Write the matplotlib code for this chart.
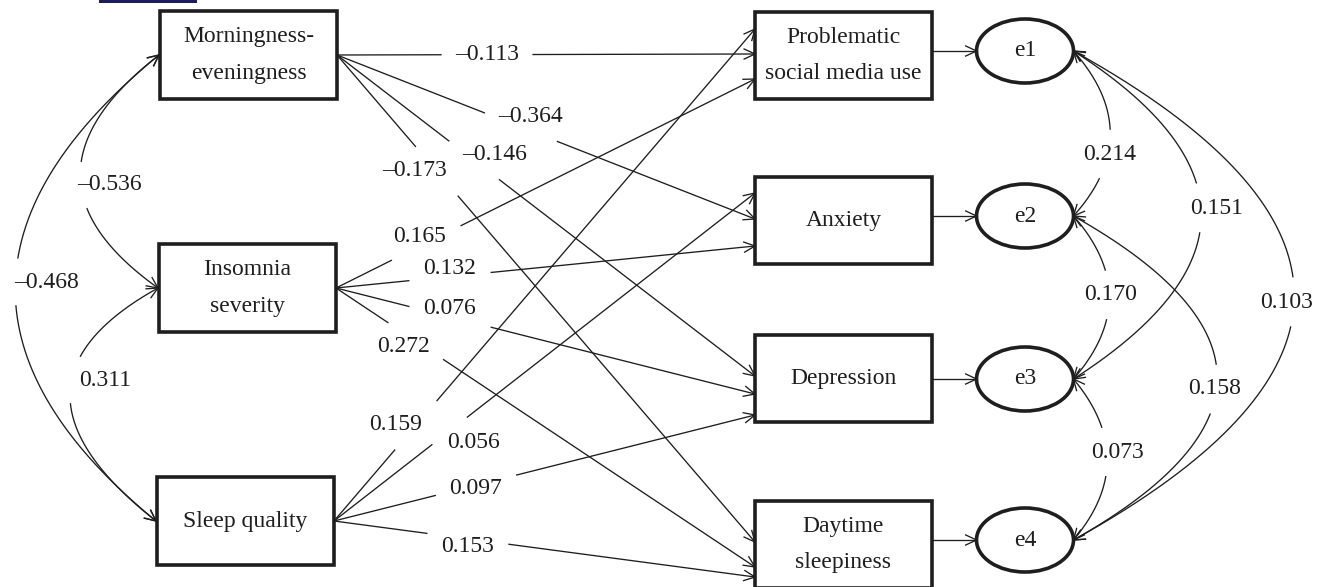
import numpy as np
import matplotlib
matplotlib.use('Agg')
import matplotlib.pyplot as plt
from matplotlib.patches import Rectangle, Ellipse

plt.rcParams['font.family'] = ['Liberation Serif', 'DejaVu Serif']

# ---- data ----
predictors = ['Morningness-\neveningness', 'Insomnia\nseverity', 'Sleep quality']
outcomes = ['Problematic\nsocial media use', 'Anxiety', 'Depression', 'Daytime\nsleepiness']
residuals = ['e1', 'e2', 'e3', 'e4']

# path coefficients: rows = predictors, cols = outcomes
coef_morning = [-0.113, -0.364, -0.146, -0.173]
coef_insomnia = [0.165, 0.132, 0.076, 0.272]
coef_sleepq = [0.159, 0.056, 0.097, 0.153]
path_coefs = [coef_morning, coef_insomnia, coef_sleepq]

# correlations among predictors: (i, j, r)
pred_pairs = [(0, 1), (1, 2), (0, 2)]
pred_corr = [-0.536, 0.311, -0.468]

# residual correlations
resid_pairs = [(0, 1), (0, 2), (0, 3), (1, 2), (1, 3), (2, 3)]
resid_corr = [0.214, 0.151, 0.103, 0.170, 0.158, 0.073]

# ---- layout (pixel coordinates) ----
W, H = 1325, 587
FS = 17
LW = 0.95
INK = '#1e1e1e'

pred_left = [160, 159, 157]
pred_top = [11, 244, 477]
box_w, box_h = 177, 88
out_left = 755
out_top = [12, 177, 335, 501]
out_w, out_h = 177, 87
ell_cx, ell_w, ell_h = 1025, 97, 64
ell_cy = [51, 216, 379, 540]

# where each path arrow hits the outcome box (y), and where its label sits
arrow_y = [[54, 219, 376, 542],
           [79, 246, 394, 567],
           [29, 193, 415, 577]]
path_lab = [[(487, 54), (530, 117), (495, 155), (415, 171)],
            [(420, 236), (450, 269), (450, 309), (403, 347)],
            [(396, 425), (473, 442), (476, 489), (468, 547)]]

pred_ctrl = [(2, 177), (-17, 385), (-127, 289)]
pred_lab = [(109, 185), (105, 380), (47, 282)]

resid_ctrl = [(1147, 134), (1329, 215), (1515, 296), (1145, 297), (1361, 378), (1141, 460)]
resid_lab = [(1110, 154), (1217, 208), (1287, 302), (1111, 295), (1215, 389), (1118, 452)]


def fmt(v):
    return f'{v:.3f}'.replace('-', '\u2013')


def line_pts(p0, p1, n=600):
    t = np.linspace(0, 1, n)
    return p0[0] + (p1[0] - p0[0]) * t, p0[1] + (p1[1] - p0[1]) * t


def quad_pts(p0, c, p2, n=600):
    t = np.linspace(0, 1, n)
    x = (1 - t) ** 2 * p0[0] + 2 * (1 - t) * t * c[0] + t ** 2 * p2[0]
    y = (1 - t) ** 2 * p0[1] + 2 * (1 - t) * t * c[1] + t ** 2 * p2[1]
    return x, y


def draw_with_gap(ax, x, y, lab_xy, text, hh=24):
    hw = 5 * len(text) + 15
    x = x.copy(); y = y.copy()
    m = (np.abs(x - lab_xy[0]) < hw) & (np.abs(y - lab_xy[1]) < hh)
    x[m] = np.nan
    ax.plot(x, y, color=INK, lw=LW, solid_capstyle='butt')
    ax.text(lab_xy[0], lab_xy[1], text, fontsize=FS, ha='center', va='center', color=INK)


def head(ax, tip, frm, L=12, ang=25):
    d = np.array(tip, float) - np.array(frm, float)
    d /= np.hypot(*d)
    for s in (1, -1):
        a = np.radians(s * ang)
        r = np.array([d[0] * np.cos(a) - d[1] * np.sin(a), d[0] * np.sin(a) + d[1] * np.cos(a)])
        ax.plot([tip[0], tip[0] - L * r[0]], [tip[1], tip[1] - L * r[1]], color=INK, lw=LW)


fig = plt.figure(figsize=(W / 100, H / 100), dpi=100)
ax = fig.add_axes([0, 0, 1, 1])
ax.set_xlim(0, W)
ax.set_ylim(H, 0)
ax.axis('off')

# small bar cropped at the top edge
ax.add_patch(Rectangle((99, 0), 98, 2.5, color='#1c1c5a', lw=0))

# predictor boxes
for i, name in enumerate(predictors):
    ax.add_patch(Rectangle((pred_left[i], pred_top[i]), box_w, box_h, fill=False, ec=INK, lw=2.6, zorder=3))
    ax.text(pred_left[i] + box_w / 2, pred_top[i] + box_h / 2, name, fontsize=FS, ha='center',
            va='center', linespacing=1.95, color=INK)

# outcome boxes, residual ellipses
for j, name in enumerate(outcomes):
    ax.add_patch(Rectangle((out_left, out_top[j]), out_w, out_h, fill=False, ec=INK, lw=2.6, zorder=3))
    ax.text(out_left + out_w / 2, out_top[j] + out_h / 2, name, fontsize=FS, ha='center',
            va='center', linespacing=1.95, color=INK)
    cy = ell_cy[j]
    ax.add_patch(Ellipse((ell_cx, cy), ell_w, ell_h, fill=False, ec=INK, lw=2.6, zorder=3))
    ax.text(ell_cx, cy, residuals[j], fontsize=FS, ha='center', va='center', color=INK)
    x0 = out_left + out_w
    x1 = ell_cx - ell_w / 2
    ax.plot([x0, x1], [cy, cy], color=INK, lw=LW)
    head(ax, (x1, cy), (x0, cy))

# paths predictor -> outcome
for i in range(len(predictors)):
    src = (pred_left[i] + box_w, pred_top[i] + box_h / 2)
    for j in range(len(outcomes)):
        dst = (out_left, arrow_y[i][j])
        x, y = line_pts(src, dst)
        draw_with_gap(ax, x, y, path_lab[i][j], fmt(path_coefs[i][j]))
        head(ax, dst, src)

# correlations among predictors (left arcs)
for k, (a, b) in enumerate(pred_pairs):
    p0 = (pred_left[a] - 1, pred_top[a] + box_h / 2)
    p2 = (pred_left[b] - 1, pred_top[b] + box_h / 2)
    c = pred_ctrl[k]
    x, y = quad_pts(p0, c, p2)
    draw_with_gap(ax, x, y, pred_lab[k], fmt(pred_corr[k]), hh=23)
    head(ax, p0, c)
    head(ax, p2, c)

# residual correlations (right arcs)
for k, (a, b) in enumerate(resid_pairs):
    p0 = (ell_cx + ell_w / 2, ell_cy[a])
    p2 = (ell_cx + ell_w / 2, ell_cy[b])
    c = resid_ctrl[k]
    x, y = quad_pts(p0, c, p2)
    draw_with_gap(ax, x, y, resid_lab[k], fmt(resid_corr[k]), hh=24)
    head(ax, p0, c)
    head(ax, p2, c)

fig.savefig('out.png', dpi=100, facecolor='white')
